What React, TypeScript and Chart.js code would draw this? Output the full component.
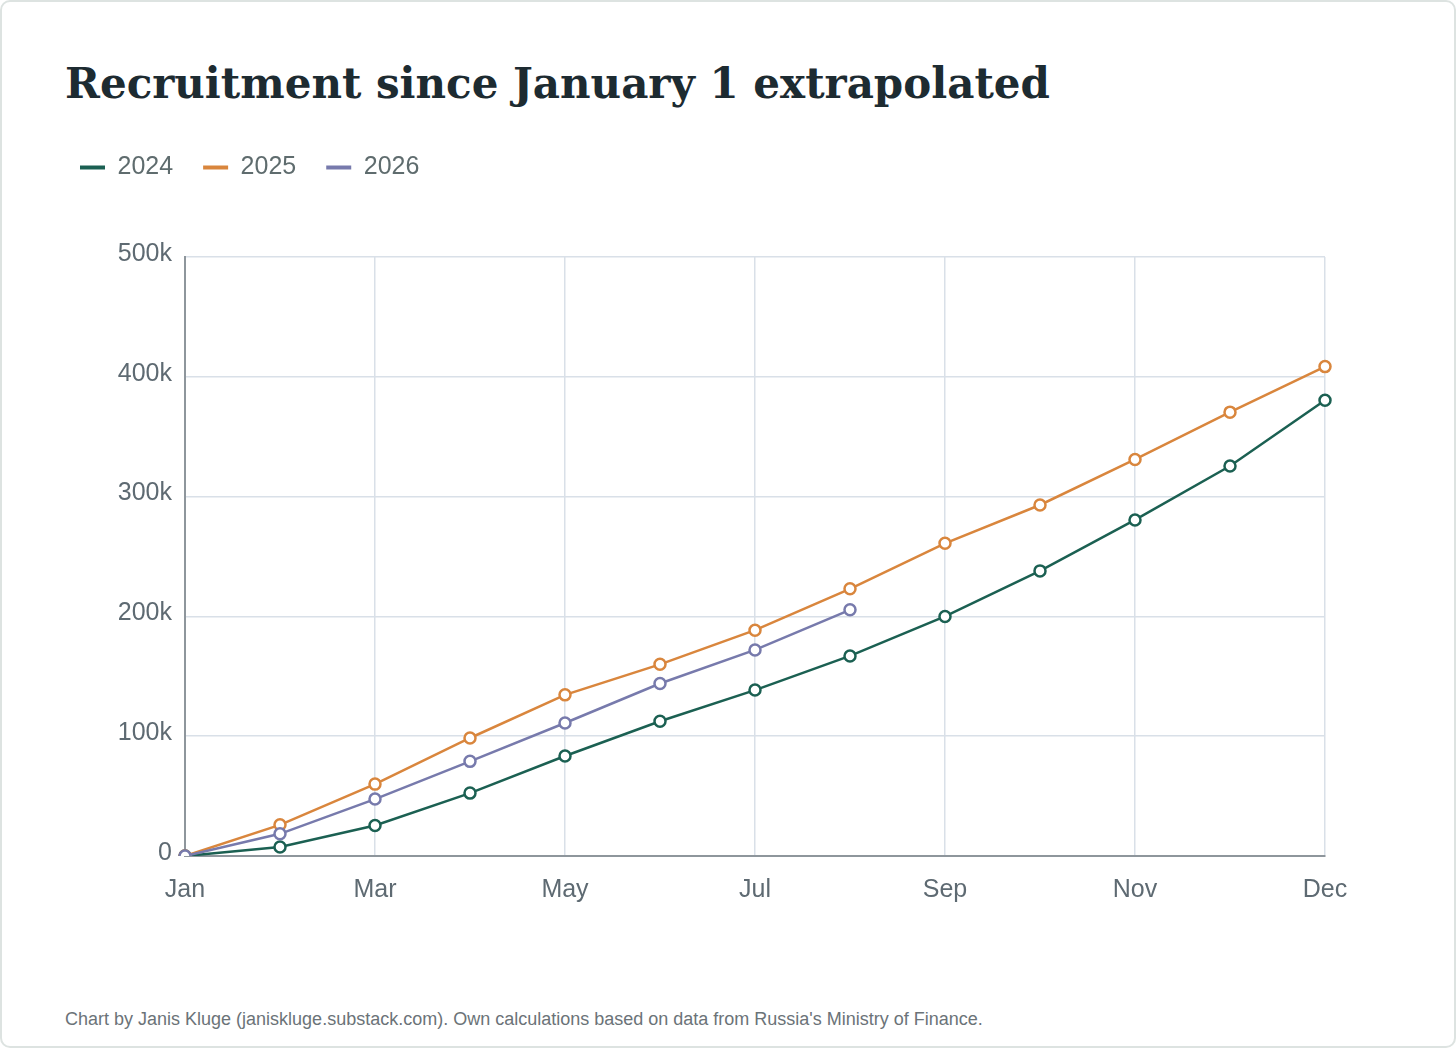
import React, { useEffect, useRef } from 'react';
import { Chart, registerables } from 'chart.js';

Chart.register(...registerables);

// Categories: Jan 1 then each month-end (13 points), shown every other month
const CATEGORIES = ['Jan', 'Feb', 'Mar', 'Apr', 'May', 'Jun', 'Jul', 'Aug', 'Sep', 'Oct', 'Nov', 'Dec', 'Dec 31'];
const X_TICK_LABELS = ['Jan', '', 'Mar', '', 'May', '', 'Jul', '', 'Sep', '', 'Nov', '', 'Dec'];

// Cumulative recruitment (thousands)
const SERIES_2024 = [0, 7.5, 25.5, 52.5, 83.5, 112.5, 138.5, 167, 200, 238, 280.5, 325.5, 380.5];
const SERIES_2025 = [0, 26, 60, 98.5, 134.5, 160, 188.5, 223, 261, 293, 331, 370.5, 408.5];
const SERIES_2026 = [0, 18.5, 47.5, 79, 111, 144, 172, 205.5];

const Y_TICKS = [0, 100000, 200000, 300000, 400000, 500000];

const TITLE = 'Recruitment since January 1 extrapolated';
const FOOTER = "Chart by Janis Kluge (janiskluge.substack.com). Own calculations based on data from Russia's Ministry of Finance.";

const SANS = "'Liberation Sans', Arial, Helvetica, sans-serif";

export default function App() {
  const ref = useRef<HTMLCanvasElement | null>(null);

  useEffect(() => {
    if (!ref.current) return;
    const LEGEND_H = 132;
    const legendHeightPlugin = {
      id: 'legendHeight',
      beforeUpdate(chart: any) {
        const lg = chart.legend;
        if (lg && !lg.__patched) {
          const orig = lg.fit.bind(lg);
          lg.fit = function () {
            orig();
            this.height = LEGEND_H;
          };
          lg.__patched = true;
        }
      },
    };

    const mk = (label: string, vals: number[], color: string, order: number) => ({
      label,
      data: vals.map((v) => v * 1000),
      borderColor: color,
      backgroundColor: '#ffffff',
      pointBackgroundColor: '#ffffff',
      pointBorderColor: color,
      pointRadius: 5.5,
      pointBorderWidth: 2.5,
      borderWidth: 2.5,
      tension: 0,
      fill: false,
      order,
    });

    const chart = new Chart(ref.current, {
      type: 'line',
      data: {
        labels: CATEGORIES,
        datasets: [
          mk('2024', SERIES_2024, '#1b6052', 3),
          mk('2025', SERIES_2025, '#d9863d', 2),
          mk('2026', SERIES_2026, '#777aac', 1),
        ],
      },
      plugins: [legendHeightPlugin],
      options: {
        animation: false,
        responsive: false,
        maintainAspectRatio: false,
        devicePixelRatio: 1,
        layout: { padding: { left: 50, right: 131, top: 0, bottom: 20 } },
        plugins: {
          tooltip: { enabled: false },
          legend: {
            display: true,
            position: 'top',
            align: 'start',
            labels: {
              boxWidth: 25,
              boxHeight: 4,
              padding: 30,
              color: '#5f6c6e',
              font: { family: SANS, size: 25 },
              sort: (a: any, b: any) => a.datasetIndex - b.datasetIndex,
              generateLabels: (c: any) =>
                (Chart.defaults.plugins.legend.labels as any).generateLabels(c).map((l: any) => ({
                  ...l,
                  fillStyle: l.strokeStyle,
                  lineWidth: 0,
                })),
            },
          },
        },
        scales: {
          x: {
            type: 'category',
            offset: false,
            grid: { color: '#d9e0e8', lineWidth: 1.5, drawTicks: false },
            border: { color: '#8e969c', width: 2 },
            ticks: {
              autoSkip: false,
              maxRotation: 0,
              padding: 19,
              color: '#5e6a72',
              font: { family: SANS, size: 25 },
              callback: (_v: any, i: number) => (X_TICK_LABELS[i] ? X_TICK_LABELS[i] : null),
            },
            afterFit: (s: any) => {
              s.height = 50;
            },
          },
          y: {
            min: 0,
            max: 500000,
            grid: { color: '#d9e0e8', lineWidth: 1.5, drawTicks: false },
            border: { color: '#8e969c', width: 2 },
            afterBuildTicks: (s: any) => {
              s.ticks = Y_TICKS.map((v) => ({ value: v }));
            },
            ticks: {
              padding: 13,
              labelOffset: -3,
              color: '#5e6a72',
              font: { family: SANS, size: 25 },
              callback: (v: any) => (Number(v) === 0 ? '0' : Number(v) / 1000 + 'k'),
            },
            afterFit: (s: any) => {
              s.width = 135;
            },
          },
        },
      },
    } as any);
    return () => chart.destroy();
  }, []);

  return (
    <div
      style={{
        position: 'absolute',
        left: 0,
        top: 0,
        width: 1456,
        height: 1048,
        boxSizing: 'border-box',
        border: '2px solid #dde3e1',
        borderRadius: 10,
        background: '#ffffff',
        overflow: 'hidden',
      }}
    >
      <div
        style={{
          position: 'absolute',
          left: 63,
          top: 61,
          fontFamily: "'DejaVu Serif', Georgia, serif",
          fontWeight: 'bold',
          fontSize: 42,
          lineHeight: 1,
          color: '#1d2b31',
          whiteSpace: 'nowrap',
        }}
      >
        {TITLE}
      </div>
      <canvas
        ref={ref}
        width={1456}
        height={801}
        style={{ position: 'absolute', left: -2, top: 123, width: 1456, height: 801 }}
      />
      <div
        style={{
          position: 'absolute',
          left: 63,
          top: 1008,
          fontFamily: SANS,
          fontSize: 18,
          lineHeight: 1,
          color: '#6b7378',
          whiteSpace: 'nowrap',
        }}
      >
        {FOOTER}
      </div>
    </div>
  );
}
